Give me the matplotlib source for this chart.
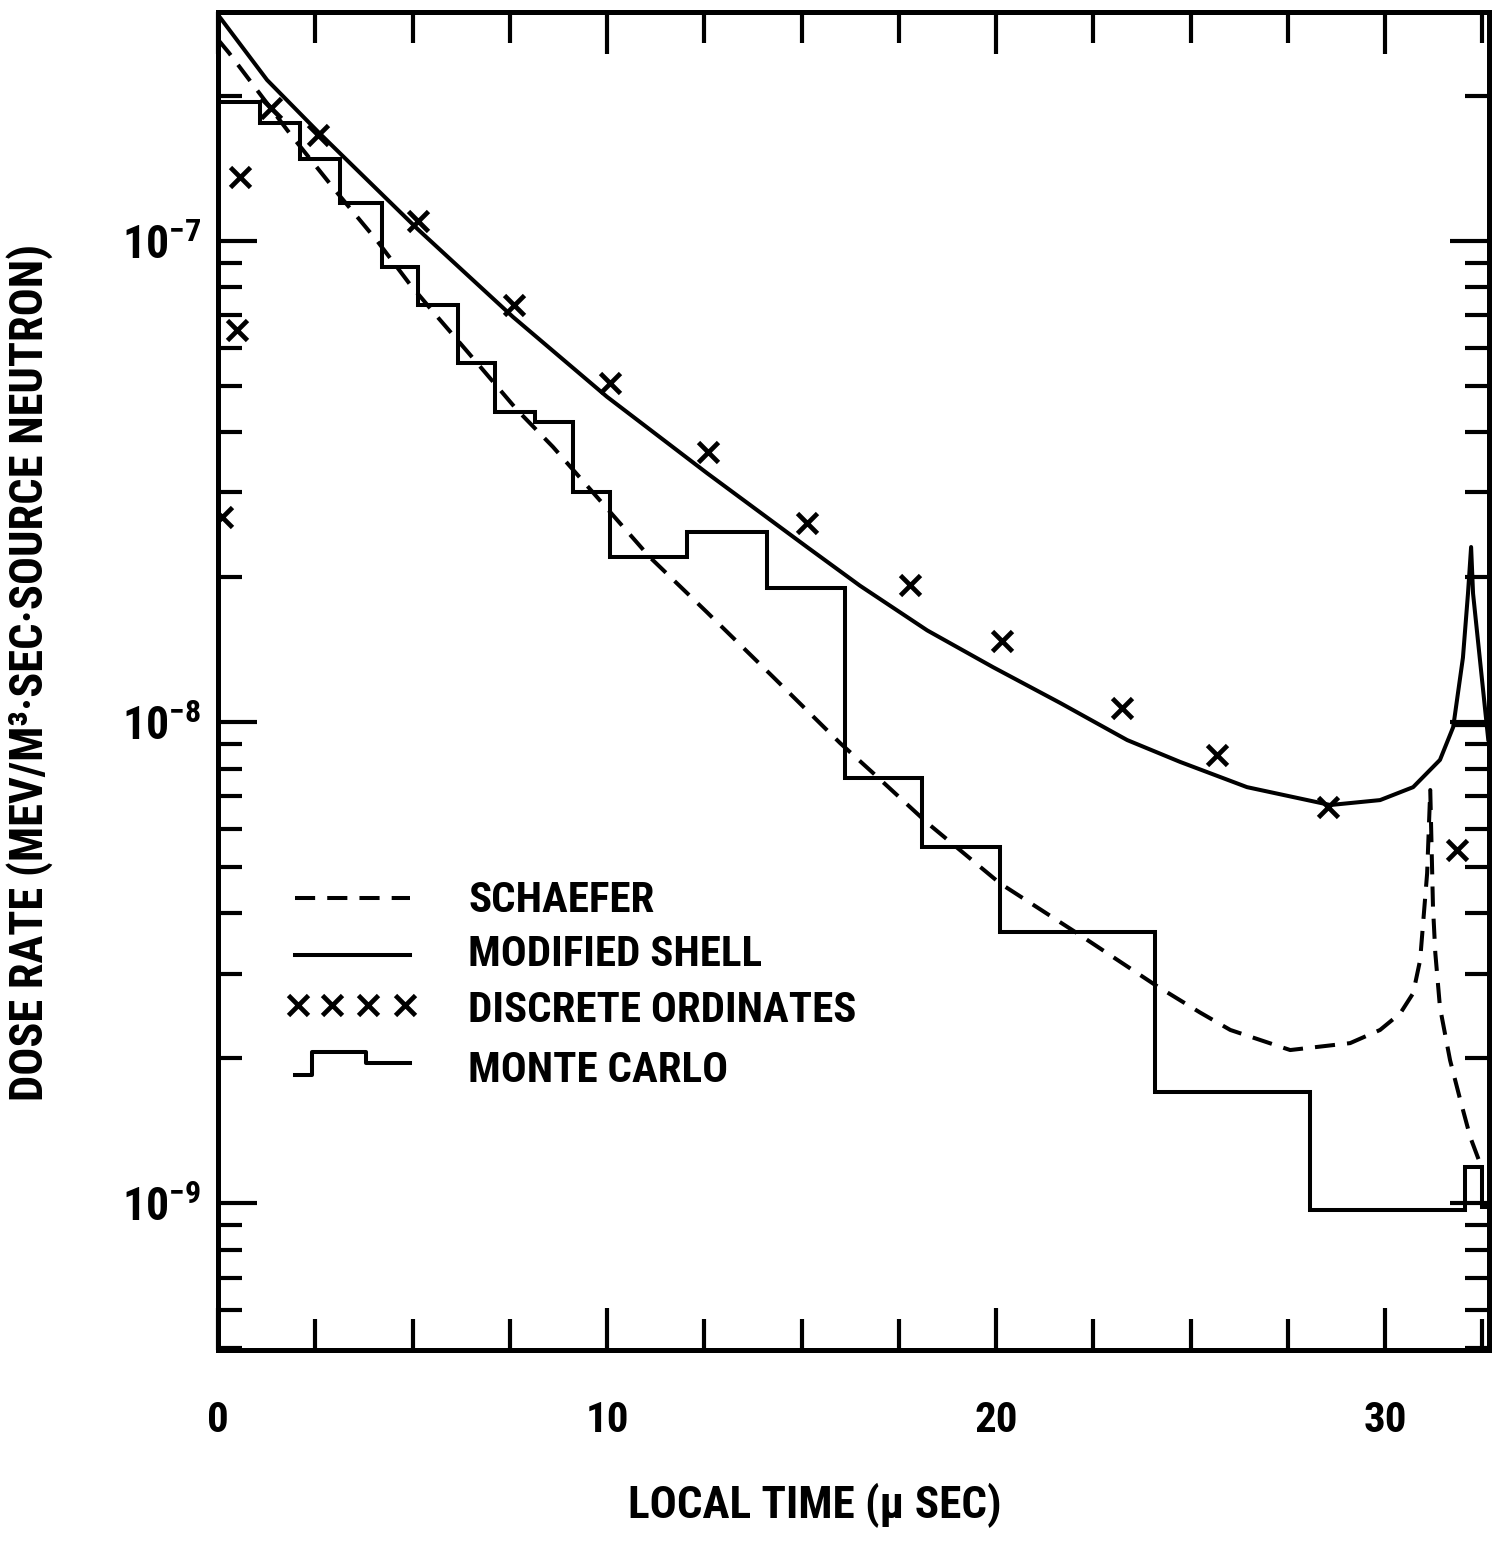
import os
import numpy as np
import matplotlib
matplotlib.use('Agg')
import matplotlib.pyplot as plt
from matplotlib import font_manager as fm
from matplotlib.ticker import FixedLocator, LogLocator, NullFormatter, FuncFormatter, MultipleLocator
from matplotlib.lines import Line2D


def pick_font():
    ttf = fm.fontManager.ttflist
    names = {f.name for f in ttf}
    for p in ['Liberation Sans Narrow', 'Roboto Condensed', 'Open Sans Condensed',
              'Noto Sans Condensed', 'Arial Narrow', 'DejaVu Sans Condensed']:
        if p in names:
            return p, 'normal'
    best = None
    for f in ttf:
        key = (f.name + ' ' + os.path.basename(f.fname)).lower()
        if ('cond' in key or 'narrow' in key or 'condensed' in str(f.stretch)) \
                and 'mono' not in key and 'serif' not in key.replace('sans', ''):
            best = (f.name, f.stretch)
            if 'sans' in key:
                break
    if best:
        return best
    return 'DejaVu Sans', 'normal'


FONT, STRETCH = pick_font()
plt.rcParams['font.family'] = [FONT, 'DejaVu Sans']
plt.rcParams['font.stretch'] = STRETCH
plt.rcParams['font.weight'] = 'bold'
plt.rcParams['axes.labelweight'] = 'bold'
plt.rcParams['mathtext.fontset'] = 'custom'
plt.rcParams['mathtext.rm'] = FONT + ':bold'
plt.rcParams['mathtext.default'] = 'rm'

# ---- data ----
schaefer_t = [0.0, 0.28, 1.85, 3.06, 4.09, 4.94, 5.66, 6.43, 7.69, 8.61, 11.1, 12.57, 14.27,
              15.99, 16.84, 18.23, 20.1, 22.08, 24.09, 25.24, 26.02, 27.56, 29.1, 29.87,
              30.39, 30.72, 30.9, 31.08, 31.16, 31.23, 31.29, 31.41, 31.67, 31.93, 32.19, 32.44]
schaefer_v = [2.62e-7, 2.46e-7, 1.67e-7, 1.26e-7, 1.00e-7, 8.11e-8, 6.92e-8, 5.86e-8, 4.45e-8,
              3.73e-8, 2.20e-8, 1.69e-8, 1.24e-8, 9.04e-9, 7.83e-9, 6.17e-9, 4.62e-9, 3.64e-9,
              2.84e-9, 2.49e-9, 2.29e-9, 2.08e-9, 2.15e-9, 2.29e-9, 2.48e-9, 2.73e-9, 3.20e-9,
              4.85e-9, 7.22e-9, 4.13e-9, 3.31e-9, 2.55e-9, 1.98e-9, 1.64e-9, 1.37e-9, 1.21e-9]

shell_t = [0.0, 1.26, 2.62, 5.12, 7.58, 10.0, 12.57, 15.14, 16.5, 18.23, 19.92, 21.65, 23.37,
           24.73, 26.45, 28.59, 29.87, 30.72, 31.41, 31.75, 32.0, 32.13, 32.21, 32.26, 32.65]
shell_v = [2.95e-7, 2.16e-7, 1.67e-7, 1.06e-7, 6.95e-8, 4.74e-8, 3.29e-8, 2.31e-8, 1.92e-8,
           1.55e-8, 1.30e-8, 1.095e-8, 9.17e-9, 8.26e-9, 7.32e-9, 6.72e-9, 6.88e-9, 7.32e-9,
           8.34e-9, 9.76e-9, 1.36e-8, 1.85e-8, 2.31e-8, 1.85e-8, 9.2e-9]
shell_flat_t = [31.75, 32.67]
shell_flat_v = [9.86e-9, 9.86e-9]

ordinates_t = [0.1, 0.49, 0.57, 1.36, 2.57, 5.14, 7.61, 10.08, 12.6, 15.14, 17.79, 20.15,
               23.24, 25.68, 28.53, 31.85]
ordinates_v = [2.67e-8, 6.53e-8, 1.36e-7, 1.89e-7, 1.66e-7, 1.10e-7, 7.36e-8, 5.07e-8,
               3.64e-8, 2.59e-8, 1.93e-8, 1.47e-8, 1.07e-8, 8.54e-9, 6.66e-9, 5.42e-9]

mc_edges = [0.0, 1.08, 2.11, 3.14, 4.22, 5.14, 6.17, 7.12, 8.15, 9.13, 10.08, 12.06, 14.11,
            16.12, 18.1, 20.1, 24.09, 28.07, 32.06, 32.49, 32.67]
mc_values = [1.94e-7, 1.76e-7, 1.48e-7, 1.2e-7, 8.83e-8, 7.36e-8, 5.58e-8, 4.41e-8, 4.2e-8,
             3.01e-8, 2.20e-8, 2.48e-8, 1.90e-8, 7.65e-9, 5.5e-9, 3.66e-9, 1.70e-9, 9.67e-10,
             1.19e-9, 9.8e-10]

x_ticks = [0, 10, 20, 30]
y_ticks = [1e-9, 1e-8, 1e-7]
x_label = 'LOCAL TIME (\u03bc SEC)'
y_label = 'DOSE RATE (MEV/M\u00b3\u00b7SEC\u00b7SOURCE NEUTRON)'
legend_labels = ['SCHAEFER', 'MODIFIED SHELL', 'DISCRETE ORDINATES', 'MONTE CARLO']

# ---- figure ----
W, H = 1502, 1542
fig = plt.figure(figsize=(W / 100, H / 100), dpi=100)
L, R, T, B = 218, 1489, 12, 1350
ax = fig.add_axes([L / W, 1 - B / H, (R - L) / W, (B - T) / H])
ax.set_yscale('log')
ax.set_xlim(0, 32.67)
ax.set_ylim(4.95e-10, 2.99e-7)

lw = 2.9
ax.plot(schaefer_t, schaefer_v, color='black', lw=lw, ls=(0, (5, 3)))
ax.plot(shell_t, shell_v, color='black', lw=lw)
ax.plot(shell_flat_t, shell_flat_v, color='black', lw=lw * 0.8)
ax.plot(ordinates_t, ordinates_v, ls='none', marker='x', color='black', ms=15, mew=3.4)
ax.stairs(mc_values, mc_edges, baseline=None, color='black', lw=lw)

for s in ax.spines.values():
    s.set_linewidth(3.6)

ax.xaxis.set_major_locator(FixedLocator(x_ticks))
ax.xaxis.set_minor_locator(MultipleLocator(2.5))
ax.xaxis.set_major_formatter(FuncFormatter(lambda v, p: '%d' % v))
ax.yaxis.set_major_locator(FixedLocator(y_ticks))
ax.yaxis.set_minor_locator(LogLocator(base=10, subs=np.arange(2, 10), numticks=20))
ax.yaxis.set_minor_formatter(NullFormatter())
ax.yaxis.set_major_formatter(FuncFormatter(
    lambda v, p: r'$10^{%d}$' % int(round(np.log10(v)))))

ax.tick_params(axis='both', which='both', direction='in', top=True, right=True, width=3)
ax.tick_params(axis='x', which='major', length=30, pad=36, labelsize=31)
ax.tick_params(axis='x', which='minor', length=22)
ax.tick_params(axis='y', which='major', length=28, pad=12, labelsize=33)
ax.tick_params(axis='y', which='minor', length=17)

ax.set_xlabel(x_label, fontsize=32.5, fontweight='bold')
ax.xaxis.set_label_coords((815 - L) / (R - L), -(1505 - B) / (B - T))
ax.xaxis.label.set_va('center')
ax.set_ylabel(y_label, fontsize=33.5, fontweight='bold')
ax.yaxis.set_label_coords((30 - L) / (R - L), (B - 672) / (B - T))
ax.yaxis.label.set_va('center')


def fx(x):
    return (x - L) / (R - L)


def fy(y):
    return (B - y) / (B - T)


tr = ax.transAxes
ax.add_line(Line2D([fx(295), fx(410)], [fy(898), fy(898)], transform=tr, color='black',
                   lw=lw, ls=(0, (5, 3))))
ax.add_line(Line2D([fx(295), fx(410)], [fy(955), fy(955)], transform=tr, color='black', lw=lw))
ax.add_line(Line2D([fx(298), fx(332), fx(368), fx(405)], [fy(1005)] * 4, transform=tr,
                   ls='none', marker='x', color='black', ms=14, mew=3.4))
ax.add_line(Line2D([fx(295), fx(312), fx(312), fx(366), fx(366), fx(410)],
                   [fy(1075), fy(1075), fy(1052), fy(1052), fy(1063), fy(1063)],
                   transform=tr, color='black', lw=lw))
for lab, yy in zip(legend_labels, [900, 955, 1010, 1070]):
    ax.text(fx(468), fy(yy), lab, transform=tr, fontsize=31, va='center', ha='left')

fig.savefig('out.png', dpi=100)
